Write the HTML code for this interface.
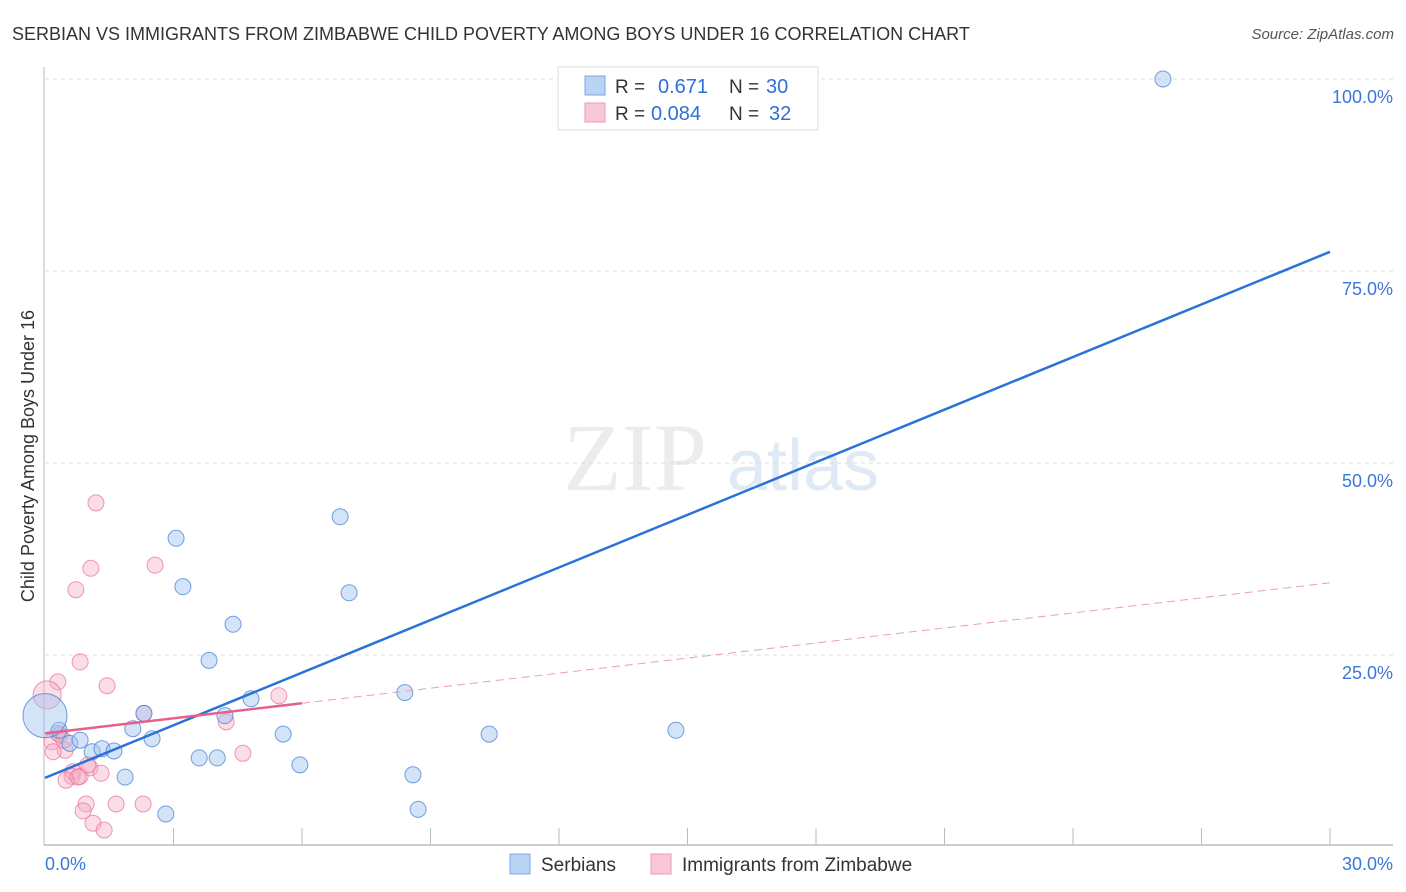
<!DOCTYPE html>
<html><head><meta charset="utf-8"><style>
body{margin:0;background:#fff;font-family:"Liberation Sans",sans-serif;}
svg{display:block}
</style></head><body>
<svg id="chart" width="1406" height="892" viewBox="0 0 1406 892" xmlns="http://www.w3.org/2000/svg" font-family="Liberation Sans, sans-serif">
<text x="12" y="40" font-size="18" fill="#333">SERBIAN VS IMMIGRANTS FROM ZIMBABWE CHILD POVERTY AMONG BOYS UNDER 16 CORRELATION CHART</text>
<text x="1394" y="39" font-size="15" fill="#555" font-style="italic" text-anchor="end">Source: ZipAtlas.com</text>
<g opacity="0.35">
<text x="635" y="490" font-size="96" fill="#c9c9c9" font-family="Liberation Serif, serif" text-anchor="middle">ZIP</text>
<text x="803" y="490" font-size="72" fill="#a9c6ea" text-anchor="middle">atlas</text>
</g>
<g id="grid"></g>
<g id="axes"></g>
<g id="points"></g>
<g id="lines"></g>
<text transform="translate(34,456) rotate(-90)" font-size="18" fill="#333" text-anchor="middle">Child Poverty Among Boys Under 16</text>
<g>
<rect x="558" y="67" width="260" height="63" fill="#fff" stroke="#ddd"/>
<rect x="585" y="76" width="20" height="19" fill="#b8d3f4" stroke="#7aa6e0"/>
<text x="615" y="93" font-size="19" fill="#333">R = </text><text x="658" y="93" font-size="20" fill="#2f6fd6">0.671</text>
<text x="729" y="93" font-size="19" fill="#333">N = </text><text x="766" y="93" font-size="20" fill="#2f6fd6">30</text>
<rect x="585" y="103" width="20" height="19" fill="#f9c8d6" stroke="#ee9ab3"/>
<text x="615" y="120" font-size="19" fill="#333">R = </text><text x="651" y="120" font-size="20" fill="#2f6fd6">0.084</text>
<text x="729" y="120" font-size="19" fill="#333">N = </text><text x="769" y="120" font-size="20" fill="#2f6fd6">32</text>
</g>
<g>
<rect x="510" y="854" width="20" height="20" fill="#b8d3f4" stroke="#7aa6e0"/>
<text x="541" y="871" font-size="19" fill="#333">Serbians</text>
<rect x="651" y="854" width="20" height="20" fill="#f9c8d6" stroke="#ee9ab3"/>
<text x="682" y="871" font-size="19" fill="#333">Immigrants from Zimbabwe</text>
</g>
</svg>
<script>
const yTicks=[25,50,75,100];
const yTickLabels=["25.0%","50.0%","75.0%","100.0%"];
const xTickLabels=["0.0%","30.0%"];
const serbX=[26.1,6.89,3.06,7.10,3.22,4.39,3.83,4.81,8.40,14.73,10.37,5.56,4.20,2.31,2.05,2.50,0.33,0.58,0.82,1.10,1.33,1.61,3.60,4.02,5.95,1.87,8.59,2.82,8.71,0.0];
const serbY=[100,43.0,40.2,33.1,33.9,29.0,24.3,19.3,20.1,15.2,14.7,14.7,17.1,17.4,15.4,14.1,15.2,13.5,13.9,12.4,12.8,12.5,11.6,11.6,10.7,9.1,9.4,4.3,4.9,17.1];
const zimX=[1.19,1.07,2.57,0.72,0.82,1.45,0.30,0.05,5.46,2.31,4.23,4.62,0.30,0.16,0.47,0.19,0.65,1.05,0.63,0.82,1.0,0.49,0.77,1.31,0.96,1.66,2.29,0.89,1.12,1.38,0.35,0.44];
const zimY=[44.8,36.3,36.7,33.5,24.1,21.0,21.5,19.8,19.7,17.4,16.3,12.2,14.8,13.7,12.6,12.4,9.8,10.3,9.2,9.2,10.7,8.7,9.1,9.6,5.6,5.6,5.6,4.7,3.1,2.2,14.6,13.9];
const serbTrend=[9.0,77.5];
const zimTrend=[14.8,34.4];
const zimSolidEnd=6;
const NS="http://www.w3.org/2000/svg";
const X=v=>45+v/30*1285, Y=v=>847-v/100*768;
function mk(t,a,p){const e=document.createElementNS(NS,t);for(const k in a)e.setAttribute(k,a[k]);document.getElementById(p).appendChild(e);return e;}
yTicks.forEach((t,i)=>{
 const g=mk('line',{x1:45,x2:1393,y1:Y(t),y2:Y(t),stroke:'#ddd','stroke-dasharray':'4,4'},'grid');
 
 
 const l=mk('text',{x:1393,y:Y(t)+24,'font-size':18,fill:'#3a78d8','text-anchor':'end'},'axes');
 l.textContent=yTickLabels[i];
 
 
});
const ax=mk('line',{x1:44,x2:44,y1:67,y2:845,stroke:'#bbb'},'axes');


const bx=mk('line',{x1:44,x2:1393,y1:845,y2:845,stroke:'#bbb','stroke-width':1.5},'axes');


for(let i=3;i<=30;i+=3){
 const t=mk('line',{x1:X(i),x2:X(i),y1:828,y2:845,stroke:'#bbb'},'axes');
 
 
}
[[0,'start',45],[30,'end',1393]].forEach((d,i)=>{
 const l=mk('text',{x:d[2],y:870,'font-size':18,fill:'#3a78d8','text-anchor':d[1]},'axes');
 l.textContent=xTickLabels[i];
 
 
});
zimX.forEach((x,i)=>{
 const c=mk('circle',{cx:X(x),cy:Y(zimY[i]),r:(i==7?14:8),fill:'rgba(246,170,195,0.4)',stroke:'rgba(232,120,155,0.75)','stroke-width':1},'points');
 
 
});
serbX.forEach((x,i)=>{
 const c=mk('circle',{cx:X(x),cy:Y(serbY[i]),r:(i==29?22:8),fill:'rgba(160,196,240,0.45)',stroke:'rgba(70,130,215,0.75)','stroke-width':1},'points');
 
 
});
const bl=mk('line',{x1:X(0),y1:Y(serbTrend[0]),x2:X(30),y2:Y(serbTrend[1]),stroke:'#2a72d8','stroke-width':2.5},'lines');


const zAt=x=>zimTrend[0]+(zimTrend[1]-zimTrend[0])*x/30;
const pl=mk('line',{x1:X(0),y1:Y(zimTrend[0]),x2:X(zimSolidEnd),y2:Y(zAt(zimSolidEnd)),stroke:'#e8608a','stroke-width':2.5},'lines');


const pd=mk('line',{x1:X(zimSolidEnd),y1:Y(zAt(zimSolidEnd)),x2:X(30),y2:Y(zimTrend[1]),stroke:'#e8a0b5','stroke-width':1,'stroke-dasharray':'8,5'},'lines');


</script>
</body></html>
